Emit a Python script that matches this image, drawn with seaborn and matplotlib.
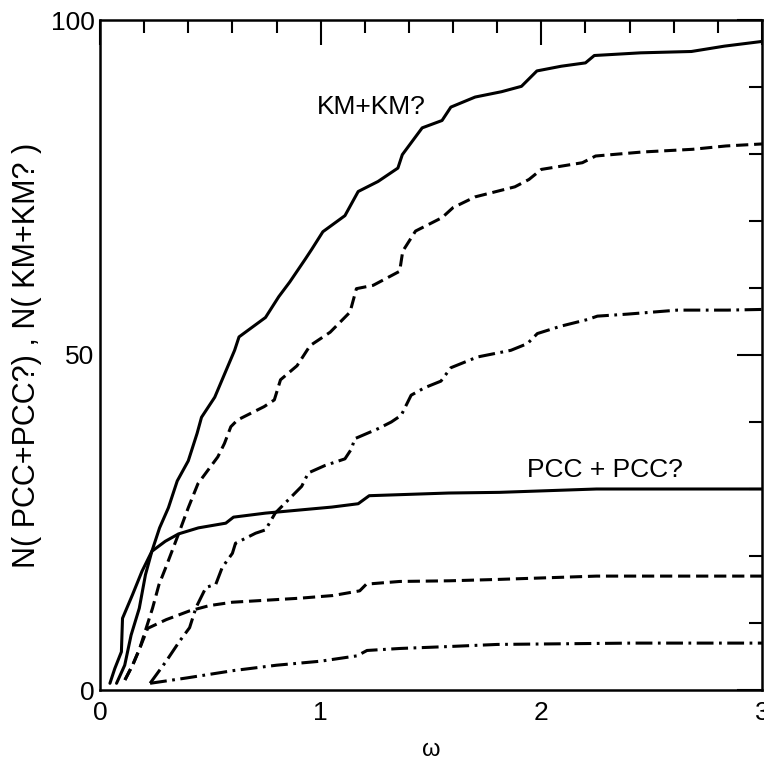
import matplotlib
matplotlib.use("Agg")
import matplotlib.pyplot as plt
import numpy as np
import pandas as pd
import seaborn as sns
from matplotlib.ticker import MultipleLocator, FixedLocator

# Cumulative number of pairs N versus separation omega
km_solid_w = [0.075, 0.112, 0.141, 0.178, 0.206, 0.235, 0.27, 0.31, 0.35, 0.40, 0.44, 0.46,
              0.52, 0.61, 0.63, 0.75, 0.81, 0.86, 0.93, 0.96, 1.01, 1.11, 1.17, 1.26, 1.35,
              1.37, 1.46, 1.55, 1.59, 1.70, 1.82, 1.91, 1.98, 2.09, 2.20, 2.24, 2.45, 2.68,
              2.83, 3.0]
km_solid_n = [1.0, 3.7, 8.2, 12.2, 17.2, 20.7, 24.2, 27.2, 31.2, 34.2, 38.3, 40.7,
              43.7, 50.7, 52.7, 55.6, 58.7, 60.9, 64.3, 65.8, 68.4, 70.8, 74.4, 75.9, 77.9,
              79.9, 83.9, 85.0, 87.0, 88.5, 89.3, 90.1, 92.4, 93.1, 93.6, 94.7, 95.1, 95.3,
              96.1, 96.8]

km_dash_w = [0.113, 0.149, 0.18, 0.209, 0.238, 0.267, 0.297, 0.326, 0.356, 0.40, 0.444,
             0.489, 0.534, 0.564, 0.593, 0.623, 0.744, 0.79, 0.818, 0.893, 0.952, 1.043,
             1.133, 1.162, 1.238, 1.358, 1.372, 1.43, 1.55, 1.60, 1.70, 1.88, 1.944, 2.0,
             2.186, 2.246, 2.458, 2.685, 2.837, 3.0]
km_dash_n = [1.5, 3.8, 6.2, 9.2, 12.2, 15.7, 18.2, 20.7, 23.3, 27.2, 30.8,
             32.8, 34.8, 36.8, 39.3, 40.3, 42.3, 43.3, 46.3, 48.4, 51.4, 53.4,
             56.4, 59.9, 60.4, 62.5, 65.5, 68.5, 70.5, 72.0, 73.6, 75.1, 76.2, 77.7,
             78.7, 79.7, 80.3, 80.7, 81.2, 81.5]

km_dashdot_w = [0.227, 0.30, 0.361, 0.406, 0.435, 0.48, 0.525, 0.554, 0.60, 0.614, 0.705,
                0.75, 0.794, 0.854, 0.914, 0.944, 1.019, 1.11, 1.14, 1.154, 1.26, 1.32,
                1.365, 1.41, 1.47, 1.545, 1.59, 1.71, 1.862, 1.937, 1.982, 2.088, 2.21,
                2.254, 2.39, 2.617, 2.845, 3.0]
km_dashdot_n = [1.0, 4.3, 7.3, 9.3, 12.3, 15.3, 15.8, 18.3, 20.4, 21.9, 23.4,
                23.9, 26.4, 28.4, 30.4, 32.4, 33.5, 34.5, 36.0, 37.5, 39.0, 40.0,
                41.0, 44.0, 45.1, 46.1, 48.1, 49.7, 50.7, 51.7, 53.2, 54.3, 55.3,
                55.8, 56.1, 56.7, 56.7, 56.8]

pcc_solid_w = [0.045, 0.067, 0.097, 0.102, 0.147, 0.19, 0.235, 0.296, 0.356, 0.446, 0.57,
               0.605, 0.75, 1.05, 1.17, 1.22, 1.58, 1.81, 2.25, 2.63, 3.0]
pcc_solid_n = [1.0, 3.2, 5.7, 10.7, 14.2, 17.7, 20.7, 22.2, 23.3, 24.2, 24.9,
               25.8, 26.4, 27.3, 27.8, 29.0, 29.4, 29.5, 30.0, 30.0, 30.0]

pcc_dash_w = [0.113, 0.149, 0.18, 0.216, 0.30, 0.405, 0.496, 0.60, 0.753, 0.905, 1.056,
              1.177, 1.207, 1.358, 1.585, 1.80, 2.25, 2.555, 3.0]
pcc_dash_n = [1.5, 3.8, 6.2, 9.2, 10.5, 11.8, 12.6, 13.1, 13.4, 13.7, 14.1,
              14.8, 15.8, 16.2, 16.3, 16.5, 17.0, 17.0, 17.0]

pcc_dashdot_w = [0.227, 0.393, 0.605, 0.80, 1.0, 1.165, 1.21, 1.36, 1.59, 1.80, 2.10,
                 2.41, 2.71, 3.0]
pcc_dashdot_n = [1.0, 1.8, 2.9, 3.7, 4.3, 5.1, 5.9, 6.2, 6.5, 6.8, 6.9,
                 7.0, 7.0, 7.0]

series = [
    ("km_solid", km_solid_w, km_solid_n),
    ("km_dash", km_dash_w, km_dash_n),
    ("km_dashdot", km_dashdot_w, km_dashdot_n),
    ("pcc_solid", pcc_solid_w, pcc_solid_n),
    ("pcc_dash", pcc_dash_w, pcc_dash_n),
    ("pcc_dashdot", pcc_dashdot_w, pcc_dashdot_n),
]
df = pd.concat(
    [pd.DataFrame({"omega": w, "N": n, "curve": name}) for name, w, n in series],
    ignore_index=True,
)

sns.set_theme(style="white")
plt.rcParams["font.family"] = ["Liberation Sans", "DejaVu Sans"]

fig = plt.figure(figsize=(7.64, 7.63), dpi=100)
ax = fig.add_axes([100 / 764, 73 / 763, 662 / 764, 670 / 763])

names = [s[0] for s in series]
palette = {k: "black" for k in names}
dash_solid = ""
dash_dashed = (4.0, 1.9)
dash_dashdot = (5.5, 1.8, 0.9, 1.8)
dashes = {
    "km_solid": dash_solid, "pcc_solid": dash_solid,
    "km_dash": dash_dashed, "pcc_dash": dash_dashed,
    "km_dashdot": dash_dashdot, "pcc_dashdot": dash_dashdot,
}

sns.lineplot(data=df, x="omega", y="N", hue="curve", style="curve",
             palette=palette, dashes=dashes, estimator=None, sort=False,
             units="curve", legend=False, linewidth=2.2, ax=ax)

ax.set_xlim(0, 3)
ax.set_ylim(0, 100)
ax.xaxis.set_major_locator(FixedLocator([0, 1, 2, 3]))
ax.xaxis.set_minor_locator(MultipleLocator(0.2))
ax.yaxis.set_major_locator(FixedLocator([0, 50, 100]))
ax.yaxis.set_minor_locator(MultipleLocator(10))
ax.set_xticklabels(["0", "1", "2", "3"])
ax.set_yticklabels(["0", "50", "100"])

ax.tick_params(which="both", direction="in", top=True, right=True,
               color="black", width=1.5, labelsize=19, labelcolor="black")
ax.tick_params(which="major", length=18)
ax.tick_params(which="minor", length=9.5)
ax.tick_params(axis="x", which="major", pad=8)
ax.tick_params(axis="y", which="major", pad=4)

for sp in ax.spines.values():
    sp.set_visible(True)
    sp.set_color("black")
    sp.set_linewidth(1.8)

ax.set_xlabel("ω", fontsize=17, labelpad=10, color="black")
ax.set_ylabel("N( PCC+PCC?) , N( KM+KM? )", fontsize=22, labelpad=6,
              color="black")

ax.text(1.23, 87.0, "KM+KM?", fontsize=19, ha="center", va="center", color="black")
ax.text(2.29, 32.8, "PCC + PCC?", fontsize=19, ha="center", va="center", color="black")

fig.savefig("out.png", dpi=100)
